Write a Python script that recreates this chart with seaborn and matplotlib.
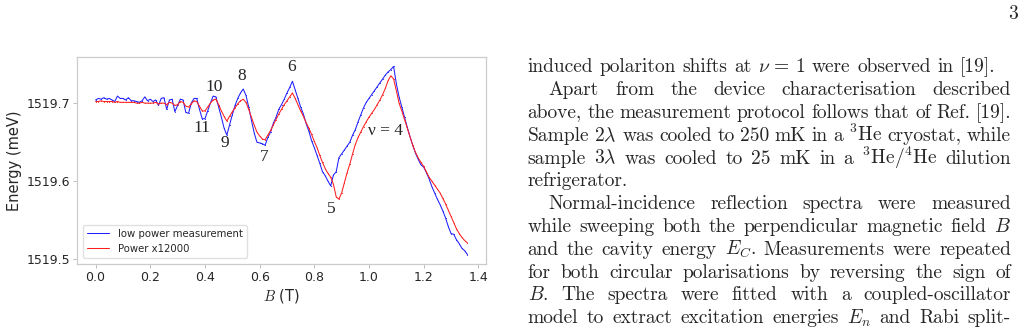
import numpy as np
import pandas as pd
import matplotlib
matplotlib.use("Agg")
import matplotlib.pyplot as plt
import seaborn as sns

# --- data (energies in meV, field in T) ---
b_field = np.round(np.arange(0, 1.361, 0.01), 2)  # sweep grid, 0.01 T steps

low_power = 1519 + np.array([
    .704, .706, .705, .707, .705, .706, .704, .702, .709, .706,
    .706, .704, .707, .703, .703, .702, .701, .703, .708, .703,
    .705, .702, .704, .697, .706, .707, .692, .704, .705, .689,
    .697, .705, .704, .688, .687, .700, .706, .706, .692, .680,
    .680, .690, .700, .709, .708, .695, .682, .668, .659, .672,
    .685, .697, .706, .713, .718, .710, .695, .678, .662, .650,
    .649, .648, .646, .656, .663, .674, .682, .692, .698, .705,
    .713, .720, .728, .717, .706, .695, .686, .674, .664, .652,
    .643, .633, .623, .612, .607, .600, .594, .608, .612, .630,
    .635, .640, .645, .650, .659, .666, .676, .685, .694, .701,
    .706, .711, .716, .721, .726, .731, .736, .740, .743, .747,
    .725, .708, .695, .682, .669, .657, .646, .636, .628, .621,
    .618, .611, .603, .593, .585, .577, .570, .562, .553, .542,
    .533, .532, .525, .520, .514, .511, .506])

high_power = 1519 + np.array([
    .702, .702, .703, .702, .702, .702, .702, .701, .702, .701,
    .701, .701, .701, .701, .701, .700, .700, .701, .700, .700,
    .700, .700, .701, .699, .700, .700, .698, .701, .700, .697,
    .698, .702, .701, .696, .695, .699, .703, .702, .696, .690,
    .690, .695, .700, .704, .705, .698, .690, .683, .677, .683,
    .689, .694, .699, .703, .705, .701, .692, .682, .672, .663,
    .658, .654, .653, .659, .665, .672, .679, .686, .692, .698,
    .703, .708, .713, .706, .698, .690, .683, .675, .668, .660,
    .651, .643, .633, .624, .616, .610, .605, .596, .580, .577,
    .585, .598, .611, .622, .635, .647, .656, .663, .670, .676,
    .682, .687, .692, .698, .704, .711, .719, .729, .735, .731,
    .716, .700, .690, .679, .668, .657, .646, .637, .630, .624,
    .619, .612, .605, .600, .595, .590, .585, .578, .571, .563,
    .555, .547, .539, .533, .528, .524, .521])

series_names = ["low power measurement", "Power x12000"]
series_colors = ["#1f1fff", "#ff1f1f"]

level_labels = ["11", "10", "9", "8", "7", "6", "5", "ν = 4"]
level_x = [0.39, 0.434, 0.474, 0.536, 0.616, 0.715, 0.861, 1.059]
level_y = [1519.668, 1519.721, 1519.649, 1519.735, 1519.631, 1519.7465, 1519.5645, 1519.6645]

page_number = "3"
page_lines = [
    r"induced polariton shifts at $\nu\,=\,1$ were observed in [19].",
    r"Apart from the device characterisation described",
    r"above, the measurement protocol follows that of Ref. [19].",
    r"Sample 2$\lambda$ was cooled to 250 mK in a $^3$He cryostat, while",
    r"sample 3$\lambda$ was cooled to 25 mK in a $^3$He/$^4$He dilution",
    r"refrigerator.",
    r"Normal-incidence reflection spectra were measured",
    r"while sweeping both the perpendicular magnetic field $B$",
    r"and the cavity energy $E_C$. Measurements were repeated",
    r"for both circular polarisations by reversing the sign of",
    r"$B$.  The spectra were fitted with a coupled-oscillator",
    r"model to extract excitation energies $E_n$ and Rabi split-",
]
indented = {1, 6}
ragged = {0, 5}

df = pd.DataFrame({
    "B": np.concatenate([b_field, b_field]),
    "E": np.concatenate([low_power, high_power]),
    "series": np.repeat(series_names, len(b_field)),
})

# --- figure ---
W, H = 1025, 329
sns.set_style("white")
plt.rcParams["mathtext.fontset"] = "cm"
fig = plt.figure(figsize=(W / 100, H / 100), dpi=100)
ax = fig.add_axes([77 / W, 1 - 264 / H, 409 / W, 207 / H])

sns.lineplot(data=df, x="B", y="E", hue="series", palette=dict(zip(series_names, series_colors)),
             estimator=None, sort=False, marker=".", markersize=1.5, markeredgewidth=0,
             linewidth=0.75, ax=ax)

ax.set_yticks([1519.5, 1519.6, 1519.7])
ax.set_yticklabels(["1519.5", "1519.6", "1519.7"])
ax.set_xticks(np.arange(0, 1.41, 0.2))
ax.set_xticklabels([f"{t:.1f}" for t in np.arange(0, 1.41, 0.2)])
ax.tick_params(labelsize=9, length=3, width=0.6, color=".7", pad=2,
               bottom=True, left=True)
for s in ax.spines.values():
    s.set_color(".8")
    s.set_linewidth(0.9)
ax.set_xlabel("$\\mathit{B}$ (T)", fontsize=10.5, labelpad=2)
ax.set_ylabel("Energy (meV)", fontsize=10.5, labelpad=3)

handles, labels = ax.get_legend_handles_labels()
ax.legend(handles, labels, loc="lower left", fontsize=7.3, frameon=True,
          edgecolor=".85", handlelength=2.2, borderaxespad=0.6)

for lab, x, y in zip(level_labels, level_x, level_y):
    ax.text(x, y, lab, ha="center", va="center", fontsize=12.5, family="Liberation Serif")

# --- page text beside the figure ---
TXT = 14
X0, X1 = 527.5, 1011
renderer = fig.canvas.get_renderer()
fig.text(1013 / W, 1 - 19 / H, page_number, fontsize=TXT, family="cmr10", ha="center", va="baseline")
for i, line in enumerate(page_lines):
    base = 72.5 + 22.8 * i
    words = line.split()
    objs = [fig.text(0, 1 - base / H, w, fontsize=TXT, family="cmr10", va="baseline") for w in words]
    widths = [o.get_window_extent(renderer).width for o in objs]
    x = X0 + (21 if i in indented else 0)
    gap = 6.6 if i in ragged else (X1 - x - sum(widths)) / (len(words) - 1)
    for o, w in zip(objs, widths):
        o.set_x(x / W)
        x += w + gap

fig.savefig("out.png", dpi=100, facecolor="white")
